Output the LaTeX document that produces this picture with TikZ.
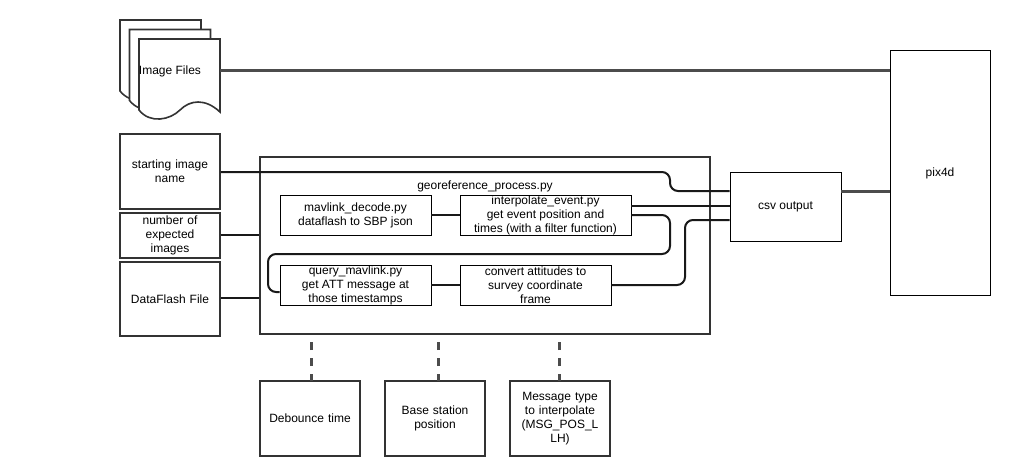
\documentclass[tikz,border=0pt]{standalone}
\usepackage{fontspec}
\setmainfont{Liberation Sans}
\tikzset{
  inbox/.style={draw=black!80,line width=1.6pt,fill=white,minimum width=100pt,align=center,inner sep=0pt,text width=98pt},
  procbox/.style={draw=black,line width=0.9pt,fill=white,align=center,inner sep=0pt,minimum height=40pt},
  wire/.style={line width=2pt,draw=black!90,rounded corners=8pt},
  graywire/.style={line width=3pt,draw=black!70},
  imgfile/.style={draw=black!80,line width=1.6pt,fill=white},
  paramlink/.style={line width=3pt,draw=black!70,dash pattern=on 8pt off 8pt,dash phase=1pt}
}
\begin{document}
\begin{tikzpicture}[x=1pt,y=-1pt,every node/.append style={font=\fontsize{12}{14}\selectfont}]
\useasboundingbox (0,0) rectangle (1016,475);

% stack of image files
\foreach \dx in {0,9.5,19} {
  \draw[imgfile] (120+\dx,20+\dx) -- (201+\dx,20+\dx) -- (201+\dx,93+\dx)
    .. controls (186+\dx,79+\dx) and (171+\dx,81+\dx) .. (161+\dx,91+\dx)
    .. controls (151+\dx,101+\dx) and (131+\dx,105+\dx) .. (120+\dx,91+\dx) -- cycle;
}
\node (imagefiles) at (170,71) {Image Files};
\coordinate (imagefilesout) at (220,70);

% inputs
\node[inbox,minimum height=75pt] (startname) at (170,171.5) {starting image\\name};
\node[inbox,minimum height=45pt] (numimages) at (170,235.5) {number of\\expected\\images};
\node[inbox,minimum height=74pt] (dataflash) at (170,299) {DataFlash File};

% process
\node[draw=black!80,line width=1.6pt,minimum width=450pt,minimum height=177pt] (process) at (485,245.5) {};
\node (processname) at (485,186) {georeference\_process.py};
\node[procbox,minimum width=151pt] (decode) at (355.5,215) {mavlink\_decode.py\\dataflash to SBP json};
\node[procbox,minimum width=171pt] (interp) at (545.5,215) {interpolate\_event.py\\get event position and\\times (with a filter function)};
\node[procbox,minimum width=151pt] (query) at (355.5,285) {query\_mavlink.py\\get ATT message at\\those timestamps};
\node[procbox,minimum width=151pt] (convert) at (535.5,285) {convert attitudes to\\survey coordinate\\frame};

% outputs
\node[procbox,minimum width=111pt,minimum height=69pt] (csv) at (785.5,206.5) {csv output};
\node[procbox,minimum width=100pt,minimum height=245pt] (pix) at (940,173) {pix4d};

% parameters
\node[inbox,minimum height=75pt] (debounce) at (310,418.5) {Debounce time};
\node[inbox,minimum height=75pt] (basestation) at (435,418.5) {Base station\\position};
\node[inbox,minimum height=75pt] (msgtype) at (560,418.5) {Message type\\to interpolate\\(MSG\_POS\_L\\LH)};

% connectors
\draw[graywire] (imagefilesout) -- (imagefilesout -| pix.west);
\draw[graywire] (csv.east |- 0,191) -- (pix.west |- 0,191);
\draw[wire] (startname.east |- 0,172) -- (670,172) -- (670,191) -- (csv.west |- 0,191);
\draw[wire] (numimages.east |- 0,235) -- (process.west |- 0,235);
\draw[wire] (dataflash.east |- 0,298) -- (process.west |- 0,298);
\draw[wire] (decode.east) -- (interp.west);
\draw[wire] (query.east) -- (convert.west);
\draw[wire] (interp.east |- 0,206) -- (csv.west |- 0,206);
\draw[wire] (interp.east) -- (670,215) -- (670,254) -- (268,254) -- (268,292) -- (query.west |- 0,292);
\draw[wire] (convert.east) -- (685,285) -- (685,220) -- (csv.west |- 0,220);

% dashed links
\coordinate (debouncetop) at (311,381);
\coordinate (basetop) at (438,381);
\coordinate (msgtop) at (559,381);
\draw[paramlink] (debouncetop) -- (debouncetop |- process.south);
\draw[paramlink] (basetop) -- (basetop |- process.south);
\draw[paramlink] (msgtop) -- (msgtop |- process.south);
\end{tikzpicture}
\end{document}
